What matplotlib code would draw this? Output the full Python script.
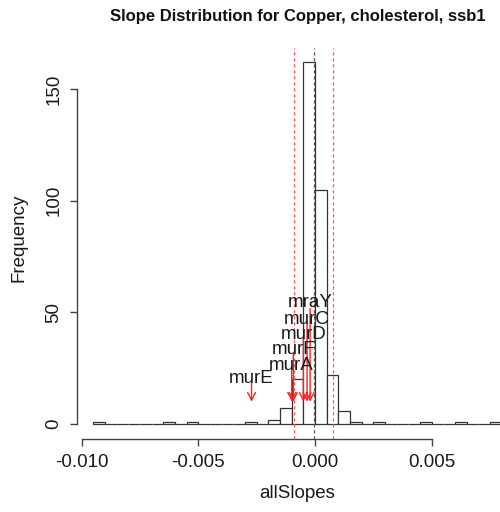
import matplotlib
matplotlib.use("Agg")
import matplotlib.pyplot as plt
import matplotlib.transforms as mtransforms
import numpy as np

plt.rcParams['font.family'] = ['Liberation Sans', 'DejaVu Sans']

# Histogram data
bin_start = -0.0095
bin_width = 0.0005
counts = [1, 0, 0, 0, 0, 0, 1, 0, 1, 0, 0, 0, 0, 1, 0, 2, 7, 20, 162, 105,
          22, 6, 1, 0, 1, 0, 0, 0, 1, 0, 0, 1, 0, 0, 1]

# Reference lines
ref_red = [-0.0009, 0.00078]
ref_center = -0.00006

# Gene annotations
genes = ['murE', 'murA', 'murF', 'murD', 'murC', 'mraY']
gene_slopes = [-0.00272, -0.00100, -0.00093, -0.00050, -0.00034, -0.00021]
arrow_tops = [18.5, 25.0, 31.6, 38.3, 45.0, 51.8]
label_heights = [16.6, 22.4, 29.6, 36.3, 43.0, 50.4]
arrow_end = 10

x_ticks = [-0.010, -0.005, 0.000, 0.005]
x_tick_labels = ['-0.010', '-0.005', '0.000', '0.005']
y_ticks = [0, 50, 100, 150]
y_tick_labels = ['0', '50', '100', '150']

fig = plt.figure(figsize=(5.0, 5.12), dpi=100)
W, H = 500, 512
l, r, t, b = 77, 518, 47.8, 438.5
ax = fig.add_axes([l / W, 1 - b / H, (r - l) / W, (b - t) / H])

lefts = bin_start + bin_width * np.arange(len(counts))
ax.bar(lefts, counts, width=bin_width, align='edge', facecolor='white',
       edgecolor='#333333', linewidth=0.9, zorder=2)

for xv in ref_red:
    ax.axvline(xv, color='#ff5a5a', linewidth=0.9, linestyle=(0, (2.6, 2.2)), zorder=3)
ax.axvline(ref_center, color='#555555', linewidth=0.9, linestyle=(0, (2.6, 2.2)), zorder=3)

for g, xs, ya, yl in zip(genes, gene_slopes, arrow_tops, label_heights):
    ax.annotate('', xy=(xs, arrow_end), xytext=(xs, ya),
                arrowprops=dict(arrowstyle='->,head_length=0.55,head_width=0.28',
                                color='#ff2020', lw=1.0, shrinkA=0, shrinkB=0,
                                mutation_scale=10), zorder=4)
    ax.text(xs, yl, g, ha='center', va='bottom', fontsize=13.5, color='#1a1a1a', zorder=5)

ax.set_xlim(-0.0102, 0.0087)
ax.set_ylim(-6.48, 168.48)

for s in ['top', 'right']:
    ax.spines[s].set_visible(False)
ax.spines['left'].set_bounds(0, 150)
ax.spines['bottom'].set_bounds(-0.010, 0.005)
for s in ['left', 'bottom']:
    ax.spines[s].set_color('#444444')
    ax.spines[s].set_linewidth(1.0)

ax.set_xticks(x_ticks)
ax.set_xticklabels(x_tick_labels)
ax.set_yticks(y_ticks)
ax.set_yticklabels([])
ax.tick_params(axis='both', length=5, width=1.0, color='#444444', labelsize=13.5,
               labelcolor='#1a1a1a')
ax.tick_params(axis='x', pad=6)

# y tick labels placed in pixel x, data y
trans = mtransforms.blended_transform_factory(fig.transFigure, ax.transData)
for v, s in zip(y_ticks, y_tick_labels):
    ax.text(54 / W, v, s, transform=trans, rotation=90, ha='center', va='center',
            fontsize=13.5, color='#1a1a1a', clip_on=False)

ax.set_xlabel('allSlopes', fontsize=13.5, color='#1a1a1a', labelpad=10)
fig.text(19.5 / W, 1 - 238 / H, 'Frequency', rotation=90, ha='center', va='center',
         fontsize=13.5, color='#1a1a1a')

fig.text((l + r) / 2 / W, 1 - 17 / H, 'Slope Distribution for Copper, cholesterol, ssb1',
         ha='center', va='center', fontsize=12, fontweight='bold', color='#111111')

fig.savefig('out.png', dpi=100)
